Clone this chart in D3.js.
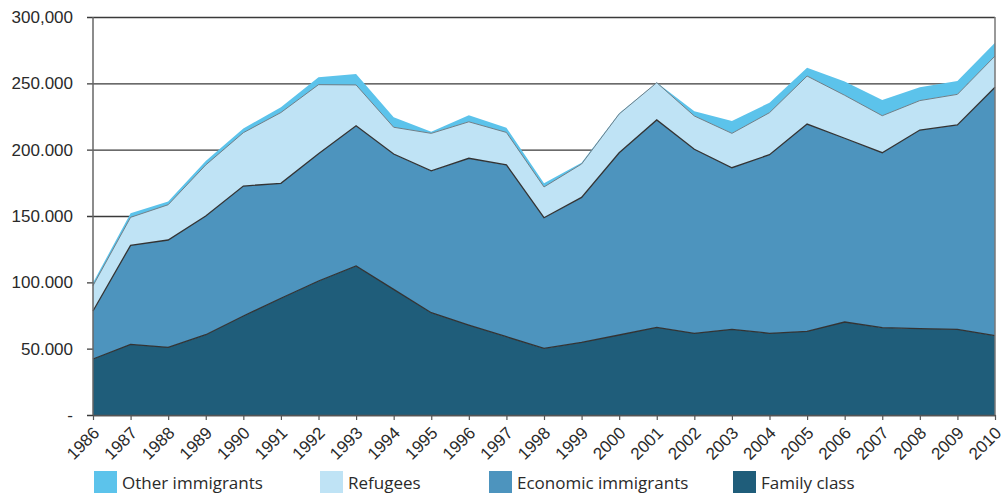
<!DOCTYPE html>
<html>
<head>
<meta charset="utf-8">
<script src="https://cdn.jsdelivr.net/npm/d3@7"></script>
<style>
  html, body { margin: 0; padding: 0; background: #fff; }
  svg { display: block; font-family: "Open Sans", "Noto Sans", sans-serif; }
</style>
</head>
<body>
<svg id="chart" width="1006" height="497"></svg>
<script>
// ---- data ----
const years = [1986,1987,1988,1989,1990,1991,1992,1993,1994,1995,1996,1997,1998,1999,2000,2001,2002,2003,2004,2005,2006,2007,2008,2009,2010];
const familyClass = [42200,53300,51000,60500,74600,88000,101000,112300,94700,77100,67800,59000,50200,54800,60300,66100,61600,64600,61600,63100,70100,65800,65100,64600,59800];
const economicImmigrants = [36200,74600,80900,89500,98000,86600,96000,105700,102000,106900,125700,129500,98500,109200,137400,156300,138700,121800,134600,156200,138500,131900,149700,154000,187200];
const refugees = [19100,21100,26600,38500,40200,53400,52000,30800,20200,28300,27500,24500,23200,25200,29200,28100,25100,25900,31700,36200,32400,27900,22200,23100,23600];
const otherImmigrants = [2200,3000,2500,3000,3200,4000,5500,8200,7500,1200,5000,3600,2800,1000,500,200,3600,9300,7500,6300,10300,11800,10000,10100,9900];
const yTickValues = [0,50000,100000,150000,200000,250000,300000];
const yTickLabels = ["-","50.000","100.000","150.000","200.000","250.000","300,000"];
const seriesKeys = ["family","economic","refugees","other"];
const legendLabels = ["Other immigrants","Refugees","Economic immigrants","Family class"];

// ---- layout ----
const W = 1006, H = 497;
const margin = {left: 93, right: 11, top: 17, bottom: 82};
const colors = {family: "#1f5d7a", economic: "#4d94be", refugees: "#bfe3f5", other: "#5cc3eb"};

const svg = d3.select("#chart");
const x = d3.scaleLinear().domain([years[0], years[years.length-1]]).range([margin.left, W - margin.right]);
const y = d3.scaleLinear().domain([0, 300000]).range([H - margin.bottom, margin.top]);

const table = years.map((yr, i) => ({
  year: yr, family: familyClass[i], economic: economicImmigrants[i],
  refugees: refugees[i], other: otherImmigrants[i]
}));
const stacked = d3.stack().keys(seriesKeys)(table);

// gridlines + y ticks
const yAxis = d3.axisLeft(y).tickValues(yTickValues)
  .tickFormat((d, i) => yTickLabels[i])
  .tickSize(-(W - margin.right - margin.left)).tickPadding(15);
const gy = svg.append("g").attr("transform", `translate(${margin.left},0)`).call(yAxis);
gy.select(".domain").remove();
gy.selectAll(".tick line").attr("stroke", "#3a3a3a").attr("stroke-width", 1.3).attr("x1", -6);
gy.selectAll(".tick text").attr("fill", "#2a2a2a").style("font-size", "17px").attr("x", -20);

// areas
const area = d3.area().x(d => x(d.data.year)).y0(d => y(d[0])).y1(d => y(d[1]));
const line = d3.line().x(d => x(d.data.year)).y(d => y(d[1]));
svg.append("g").selectAll("path").data(stacked).join("path")
  .attr("d", area).attr("fill", d => colors[d.key]);

// boundary lines
const lineStyles = {family: ["#333", 1.3], economic: ["#333", 1.3], refugees: ["#6f7f88", 1]};
svg.append("g").selectAll("path").data(stacked.filter(s => lineStyles[s.key])).join("path")
  .attr("d", line).attr("fill", "none")
  .attr("stroke", d => lineStyles[d.key][0]).attr("stroke-width", d => lineStyles[d.key][1]);

// axes frame
svg.append("line").attr("x1", x(years[0])).attr("x2", x(years[0]))
  .attr("y1", y(300000)).attr("y2", y(0)).attr("stroke", "#666").attr("stroke-width", 1.5);
svg.append("line").attr("x1", x(years[years.length-1])).attr("x2", x(years[years.length-1]))
  .attr("y1", y(300000)).attr("y2", y(0)).attr("stroke", "#777").attr("stroke-width", 1.5);

const xAxis = d3.axisBottom(x).tickValues(years).tickFormat(d3.format("d")).tickSize(5).tickSizeOuter(0);
const gx = svg.append("g").attr("transform", `translate(0,${y(0)})`).call(xAxis);
gx.select(".domain").attr("stroke", "#555").attr("stroke-width", 1.5);
gx.selectAll(".tick line").attr("stroke", "#555").attr("stroke-width", 1.2);
gx.selectAll(".tick text")
  .attr("fill", "#2a2a2a").style("font-size", "17px")
  .attr("text-anchor", "end").attr("dy", null).attr("y", 0)
  .attr("transform", "translate(7,19) rotate(-45)");

// legend
const legendX = [94, 320, 489, 733];
const legendKeys = ["other","refugees","economic","family"];
const lg = svg.append("g");
legendKeys.forEach((k, i) => {
  lg.append("rect").attr("x", legendX[i]).attr("y", 471).attr("width", 23).attr("height", 22).attr("fill", colors[k]);
  lg.append("text").attr("x", legendX[i] + 28).attr("y", 489).text(legendLabels[i])
    .attr("fill", "#2a2a2a").style("font-size", "17px");
});
</script>
</body>
</html>
